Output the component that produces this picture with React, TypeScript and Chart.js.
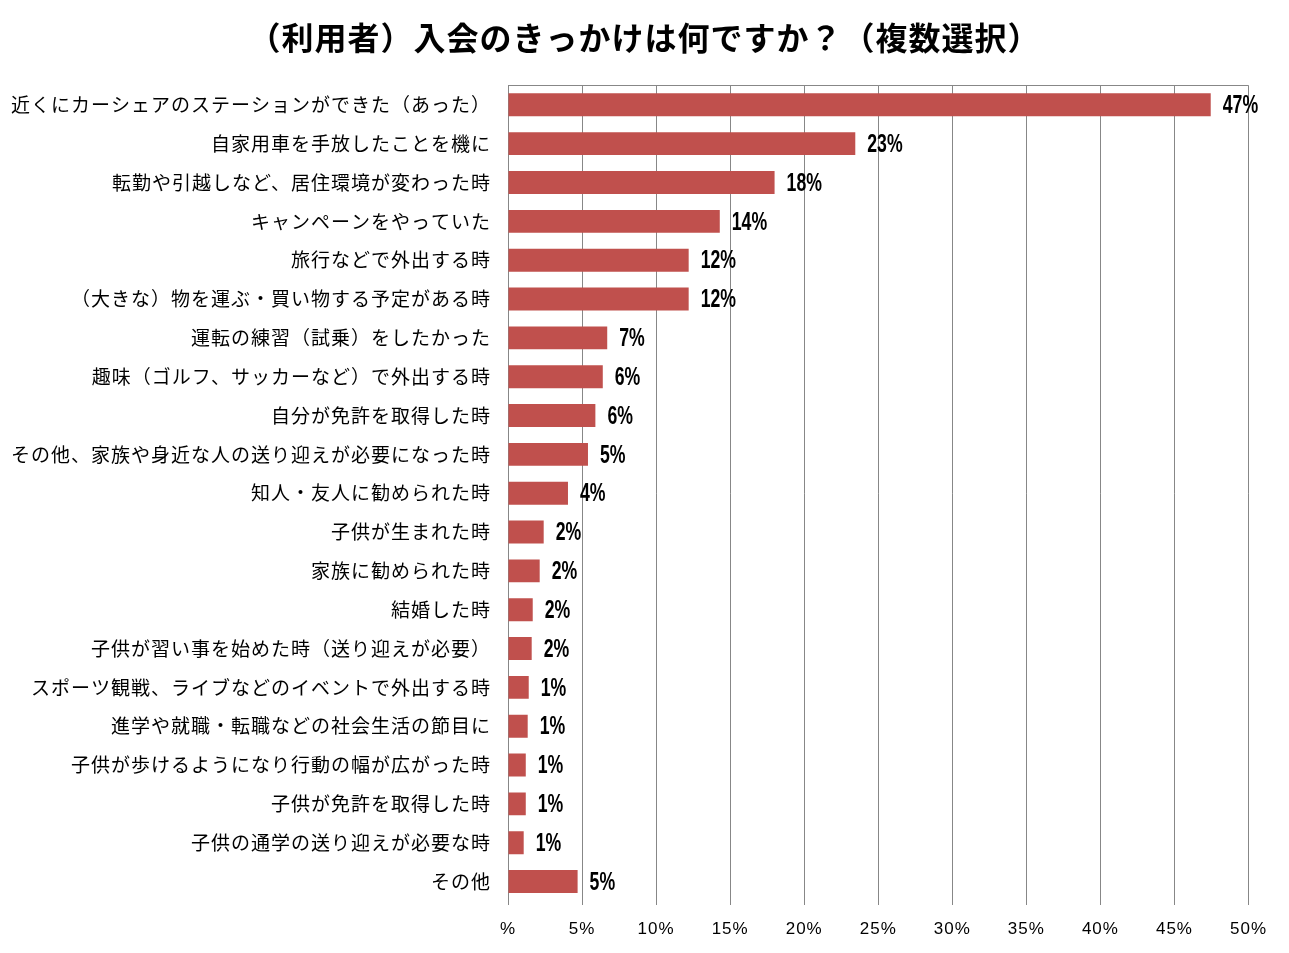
import React, { useEffect, useRef } from "react";
import { Chart, registerables } from "chart.js";

Chart.register(...registerables);

const TITLE = "（利用者）入会のきっかけは何ですか？（複数選択）";

const categories: string[] = [
  "近くにカーシェアのステーションができた（あった）",
  "自家用車を手放したことを機に",
  "転勤や引越しなど、居住環境が変わった時",
  "キャンペーンをやっていた",
  "旅行などで外出する時",
  "（大きな）物を運ぶ・買い物する予定がある時",
  "運転の練習（試乗）をしたかった",
  "趣味（ゴルフ、サッカーなど）で外出する時",
  "自分が免許を取得した時",
  "その他、家族や身近な人の送り迎えが必要になった時",
  "知人・友人に勧められた時",
  "子供が生まれた時",
  "家族に勧められた時",
  "結婚した時",
  "子供が習い事を始めた時（送り迎えが必要）",
  "スポーツ観戦、ライブなどのイベントで外出する時",
  "進学や就職・転職などの社会生活の節目に",
  "子供が歩けるようになり行動の幅が広がった時",
  "子供が免許を取得した時",
  "子供の通学の送り迎えが必要な時",
  "その他",
];

const values: number[] = [
  47.45, 23.45, 18.0, 14.3, 12.2, 12.2, 6.7, 6.4, 5.9, 5.4, 4.05, 2.41, 2.14,
  1.67, 1.6, 1.4, 1.33, 1.2, 1.2, 1.06, 4.7,
];

const dataLabels: string[] = values.map((v) => `${Math.round(v)}%`);

const xTickMin = 0;
const xTickMax = 50;
const xTickStep = 5;

const BAR_COLOR = "#C0504D";
const GRID_COLOR = "#878787";

const spacingPlugin = {
  id: "spacing",
  beforeUpdate(chart: any) {
    (chart.ctx as any).letterSpacing = "1px";
  },
  beforeDraw(chart: any) {
    (chart.ctx as any).letterSpacing = "1px";
  },
};

const extrasPlugin = {
  id: "extras",
  afterDatasetsDraw(chart: any) {
    const { ctx, chartArea } = chart;
    ctx.save();
    (ctx as any).letterSpacing = "0px";
    // top border line
    ctx.strokeStyle = GRID_COLOR;
    ctx.lineWidth = 1;
    ctx.beginPath();
    ctx.moveTo(chartArea.left, Math.round(chartArea.top) + 0.5);
    ctx.lineTo(chartArea.right, Math.round(chartArea.top) + 0.5);
    ctx.stroke();
    // data labels (bold, horizontally condensed)
    const meta = chart.getDatasetMeta(0);
    ctx.font = "bold 26px 'Liberation Sans', Arial, sans-serif";
    ctx.fillStyle = "#000";
    ctx.textAlign = "left";
    ctx.textBaseline = "middle";
    meta.data.forEach((el: any, i: number) => {
      ctx.save();
      ctx.translate(el.x + 12, el.y + 1);
      ctx.scale(0.68, 1);
      ctx.fillText(dataLabels[i], 0, 0);
      ctx.restore();
    });
    ctx.restore();
  },
};

export default function App() {
  const ref = useRef<HTMLCanvasElement | null>(null);

  useEffect(() => {
    if (!ref.current) return;
    const chart = new Chart(ref.current, {
      type: "bar",
      data: {
        labels: categories,
        datasets: [
          {
            data: values,
            backgroundColor: BAR_COLOR,
            borderWidth: 0,
            barPercentage: 0.59,
            categoryPercentage: 1,
          },
        ],
      },
      options: {
        indexAxis: "y",
        responsive: false,
        animation: false,
        layout: { padding: { left: 0, right: 0, top: 0, bottom: 0 } },
        plugins: {
          legend: { display: false },
          tooltip: { enabled: false },
          title: {
            display: true,
            text: TITLE,
            color: "#000",
            font: { family: "'Noto Sans CJK JP', sans-serif", size: 32, weight: "bold" },
            padding: { top: 11, bottom: 28 },
          },
        },
        scales: {
          x: {
            min: xTickMin,
            max: xTickMax,
            afterFit: (scale: any) => {
              scale.height = 44;
            },
            ticks: {
              stepSize: xTickStep,
              color: "#000",
              padding: 14,
              font: { family: "'Liberation Sans', Arial, sans-serif", size: 17 },
              callback: (v: any) => (Number(v) === 0 ? "%" : `${v}%`),
            },
            grid: { color: GRID_COLOR, lineWidth: 1, tickLength: 4, drawTicks: true },
            border: { display: false },
          },
          y: {
            afterFit: (scale: any) => {
              scale.width = 500;
            },
            ticks: {
              color: "#000",
              padding: 17,
              autoSkip: false,
              font: { family: "'Noto Sans CJK JP', sans-serif", size: 19 },
            },
            grid: { display: false, drawTicks: false },
            border: { display: true, color: GRID_COLOR, width: 1 },
          },
          spacer: {
            type: "category",
            axis: "y",
            position: "right",
            labels: [""],
            afterFit: (scale: any) => {
              scale.width = 32;
            },
            ticks: { display: false },
            grid: { display: false, drawTicks: false },
            border: { display: false },
          },
        },
      },
      plugins: [spacingPlugin, extrasPlugin],
    });
    return () => chart.destroy();
  }, []);

  return (
    <canvas
      ref={ref}
      width={1273}
      height={937}
      style={{ display: "block", width: 1273, height: 937 }}
    />
  );
}
